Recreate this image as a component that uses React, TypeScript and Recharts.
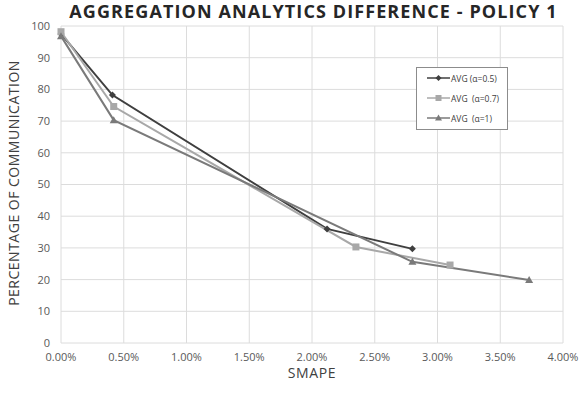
import React from "react";
import { LineChart, Line, XAxis, YAxis, CartesianGrid } from "recharts";

// SMAPE (fraction) vs percentage of communication
const smapeA05 = [0, 0.0041, 0.0212, 0.028];
const pctA05 = [97.5, 78.2, 36.0, 29.7];

const smapeA07 = [0, 0.0042, 0.0235, 0.031];
const pctA07 = [98.2, 74.6, 30.3, 24.6];

const smapeA1 = [0, 0.0042, 0.028, 0.0373];
const pctA1 = [96.8, 70.3, 25.6, 19.9];

const xTicks = [0, 0.005, 0.01, 0.015, 0.02, 0.025, 0.03, 0.035, 0.04];
const yTicks = [0, 10, 20, 30, 40, 50, 60, 70, 80, 90, 100];

const seriesNames = ["AVG (\u03b1=0.5)", "AVG  (\u03b1=0.7)", "AVG  (\u03b1=1)"];
const colors = ["#3f3f3f", "#a8a8a8", "#7a7a7a"];

const zip = (xs: number[], ys: number[]) => xs.map((x, i) => ({ x, y: ys[i] }));

const diamond = (p: any) => {
  const { cx, cy, key } = p;
  const s = 3.5;
  return (
    <path
      key={key}
      d={`M${cx},${cy - s}L${cx + s},${cy}L${cx},${cy + s}L${cx - s},${cy}Z`}
      fill={colors[0]}
    />
  );
};

const square = (p: any) => {
  const { cx, cy, key } = p;
  return <rect key={key} x={cx - 3.5} y={cy - 3.5} width={7} height={7} fill={colors[1]} />;
};

const triangle = (p: any) => {
  const { cx, cy, key } = p;
  return (
    <path
      key={key}
      d={`M${cx},${cy - 4}L${cx + 4},${cy + 3}L${cx - 4},${cy + 3}Z`}
      fill={colors[2]}
    />
  );
};

const markers = [diamond, square, triangle];

const LegendIcon: React.FC<{ i: number }> = ({ i }) => (
  <svg width={23} height={8} style={{ marginRight: 1, flexShrink: 0 }}>
    <line x1={0} y1={4} x2={23} y2={4} stroke={colors[i]} strokeWidth={1.5} />
    {i === 0 && <path d="M11.5,1L14.5,4L11.5,7L8.5,4Z" fill={colors[0]} />}
    {i === 1 && <rect x={8.5} y={1} width={6} height={6} fill={colors[1]} />}
    {i === 2 && <path d="M11.5,0.5L15,6.5L8,6.5Z" fill={colors[2]} />}
  </svg>
);

export default function App() {
  const font = "'Open Sans', sans-serif";
  return (
    <div
      style={{
        position: "absolute",
        left: 0,
        top: 0,
        width: 587,
        height: 395,
        background: "#fff",
        fontFamily: font,
      }}
    >
      <LineChart
        width={587}
        height={395}
        margin={{ top: 26, right: 24, left: 0, bottom: 0 }}
      >
        <CartesianGrid stroke="#dcdcdc" strokeWidth={1} />
        <XAxis
          type="number"
          dataKey="x"
          domain={[0, 0.04]}
          ticks={xTicks}
          tickFormatter={(v: number) => (v * 100).toFixed(2) + "%"}
          axisLine={false}
          tickLine={false}
          height={52}
          tickMargin={4}
          tick={{ fontSize: 11, fill: "#595959", fontFamily: font }}
          allowDuplicatedCategory={false}
        />
        <YAxis
          type="number"
          domain={[0, 100]}
          ticks={yTicks}
          axisLine={false}
          tickLine={false}
          width={61}
          tickMargin={5}
          tick={{ fontSize: 11, fill: "#595959", fontFamily: font }}
        />
        {[zip(smapeA05, pctA05), zip(smapeA07, pctA07), zip(smapeA1, pctA1)].map((d, i) => (
          <Line
            key={i}
            data={d}
            dataKey="y"
            name={seriesNames[i]}
            stroke={colors[i]}
            strokeWidth={2}
            dot={markers[i]}
            activeDot={false}
            isAnimationActive={false}
          />
        ))}
      </LineChart>

      <div
        style={{
          position: "absolute",
          left: 0,
          top: -1,
          width: 627,
          textAlign: "center",
          fontSize: 18,
          fontWeight: 700,
          color: "#262626",
          letterSpacing: 1.1,
          whiteSpace: "nowrap",
        }}
      >
        AGGREGATION ANALYTICS DIFFERENCE - POLICY 1
      </div>

      <div
        style={{
          position: "absolute",
          left: 13,
          top: 183,
          transform: "translate(-50%, -50%) rotate(-90deg)",
          fontSize: 14,
          letterSpacing: 0.5,
          color: "#404040",
          whiteSpace: "nowrap",
        }}
      >
        PERCENTAGE OF COMMUNICATION
      </div>

      <div
        style={{
          position: "absolute",
          left: 312,
          top: 372,
          transform: "translate(-50%, -50%)",
          fontSize: 14,
          letterSpacing: 0.6,
          color: "#404040",
        }}
      >
        SMAPE
      </div>

      <div
        style={{
          position: "absolute",
          left: 416,
          top: 67,
          width: 92,
          height: 63,
          border: "1px solid #8c8c8c",
          background: "#fff",
          boxSizing: "border-box",
          padding: "0 0 0 10px",
        }}
      >
        {seriesNames.map((n, i) => (
          <div
            key={n}
            style={{
              display: "flex",
              alignItems: "center",
              height: 20,
              fontSize: 8.5,
              color: "#404040",
              whiteSpace: "pre",
            }}
          >
            <LegendIcon i={i} />
            {n}
          </div>
        ))}
      </div>
    </div>
  );
}
